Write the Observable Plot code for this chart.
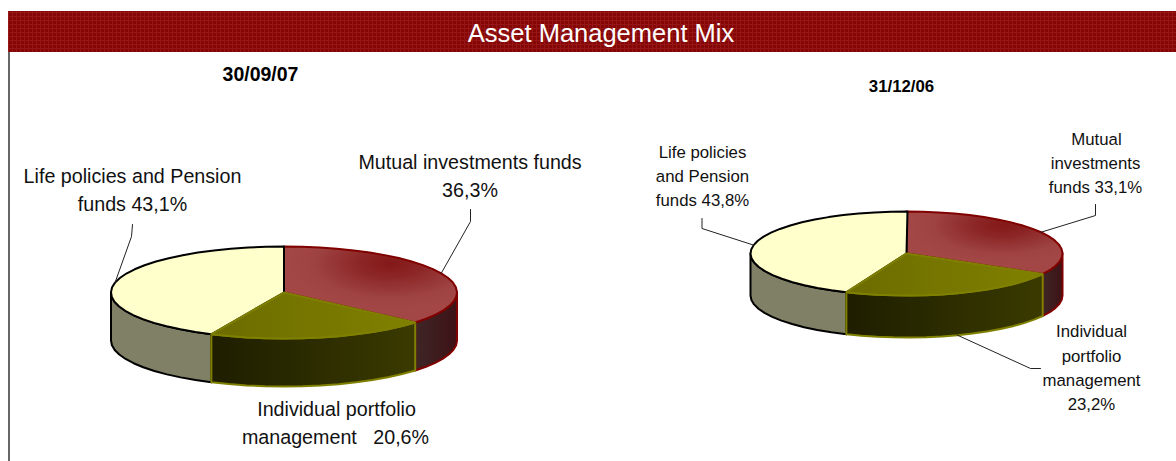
<!DOCTYPE html>
<html>
<head>
<meta charset="utf-8">
<script src="https://cdn.jsdelivr.net/npm/d3@7"></script>
<script src="https://cdn.jsdelivr.net/npm/@observablehq/plot@0.6"></script>
<style>html,body{margin:0;padding:0;background:#fff}svg{display:block}</style>
</head>
<body>
<div id="chart"></div>
<script>
// ---- data ----
const title = "Asset Management Mix";
const dates = ["30/09/07", "31/12/06"];
const categories = ["Mutual investments funds", "Individual portfolio management", "Life policies and Pension funds"];
const shares0907 = [36.3, 20.6, 43.1];
const shares1206 = [33.1, 23.2, 43.8];

// ---- layout ----
const W = 1176, H = 461;
const pies = [
  {cx: 283.5, cy: 292, rx: 173, ry: 46, depth: 48, values: shares0907},
  {cx: 906, cy: 253, rx: 156, ry: 42, depth: 42, values: shares1206}
];
const styles = [
  {top: "url(#redTop)", side: "url(#redSide)", stroke: "#800000"},
  {top: "url(#oliveTop)", side: "url(#oliveSide)", stroke: "#808000"},
  {top: "#ffffcc", side: "#808066", stroke: "#000"}
];
const pct = (v) => v.toFixed(1).replace(".", ",") + "%";

const STEP = Math.PI / 30;
const rad = (pct) => pct / 100 * 2 * Math.PI;
const pt = (p, a, dz = 0) => ({x: p.cx + p.rx * Math.sin(a), y: p.cy - p.ry * Math.cos(a) + dz});
function arc(p, a0, a1, dz = 0) {
  const out = [];
  const n = Math.max(1, Math.round((a1 - a0) / STEP));
  for (let i = 0; i <= n; ++i) out.push(pt(p, a0 + (a1 - a0) * i / n, dz));
  return out;
}
const slices = (p) => {
  let c = 0;
  return p.values.map((v, i) => {
    const a0 = rad(c); c += v; const a1 = rad(c);
    return {i, a0, a1, mid: (a0 + a1) / 2};
  });
};
function topPoly(p, s) {
  const c = {x: p.cx, y: p.cy};
  return [c, ...arc(p, s.a0, s.a1), c];
}
function sidePoly(p, s) {
  const a0 = Math.max(s.a0, Math.PI / 2), a1 = Math.min(s.a1, 3 * Math.PI / 2);
  if (a1 <= a0) return null;
  const upper = arc(p, a0, a1);
  const lower = arc(p, a0, a1, p.depth).reverse();
  return [...upper, ...lower, upper[0]];
}

const polyMark = (pts, fill, stroke, w) => Plot.line(pts, {x: "x", y: "y", fill, stroke, strokeWidth: w, strokeLinejoin: "round"});
const pieMarks = [];
for (const p of pies) {
  const ss = slices(p);
  for (const s of [ss[2], ss[0], ss[1]]) {
    const poly = sidePoly(p, s);
    if (poly) pieMarks.push(polyMark(poly, styles[s.i].side, styles[s.i].stroke, 2));
  }
  for (const s of [ss[0], ss[2], ss[1]]) {
    pieMarks.push(polyMark(topPoly(p, s), styles[s.i].top, styles[s.i].stroke, 2));
  }
}

// leader lines: start on the slice edge at the slice's mid-angle
const [p0, p1] = pies, [s0, s1] = [slices(p0), slices(p1)];
const leaders = [
  [pt(p0, s0[0].mid), {x: 470, y: 221}, {x: 470, y: 209}],
  [pt(p0, s0[2].mid), {x: 131, y: 236}, {x: 132, y: 224}],
  [pt(p1, s1[0].mid), {x: 1095, y: 215}, {x: 1095, y: 204}],
  [pt(p1, s1[2].mid), {x: 701.5, y: 228}, {x: 701.5, y: 218}],
  [pt(p1, s1[1].mid, p1.depth), {x: 1030, y: 368}, {x: 1040, y: 368}]
];

const labels = [
  {t: "Life policies and Pension", x: 132, y: 182, s: 19.7},
  {t: "funds " + pct(shares0907[2]), x: 132, y: 210, s: 19.7},
  {t: "Mutual investments funds", x: 469.5, y: 168, s: 19.7},
  {t: pct(shares0907[0]), x: 469.5, y: 196, s: 19.7},
  {t: "Individual portfolio", x: 336, y: 415, s: 19.7},
  {t: "management   " + pct(shares0907[1]), x: 335, y: 443, s: 19.7},
  {t: "Life policies", x: 702, y: 157, s: 16.8},
  {t: "and Pension", x: 702, y: 181, s: 16.8},
  {t: "funds " + pct(shares1206[2]), x: 702, y: 205, s: 16.8},
  {t: "Mutual", x: 1096, y: 144, s: 16.8},
  {t: "investments", x: 1095, y: 168, s: 16.8},
  {t: "funds " + pct(shares1206[0]), x: 1095, y: 192, s: 16.8},
  {t: "Individual", x: 1091, y: 336, s: 16.8},
  {t: "portfolio", x: 1091, y: 361, s: 16.8},
  {t: "management", x: 1091, y: 385, s: 16.8},
  {t: pct(shares1206[1]), x: 1091, y: 409, s: 16.8}
];
const dateLabels = [
  {t: dates[0], x: 260, y: 80, s: 19.5},
  {t: dates[1], x: 901, y: 91, s: 16.8}
];

const ns = "http://www.w3.org/2000/svg";
function defs() {
  const d = document.createElementNS(ns, "defs");
  d.innerHTML = `
  <pattern id="band" width="4" height="4" patternUnits="userSpaceOnUse">
    <rect width="4" height="4" fill="#860606"/>
    <rect x="0" y="0" width="4" height="1" fill="#951616"/>
    <rect x="0" y="0" width="1" height="4" fill="#951616"/>
  </pattern>
  <radialGradient id="redTop" cx="0.62" cy="0.22" r="0.6">
    <stop offset="0" stop-color="#841818"/><stop offset="0.3" stop-color="#8c2626"/><stop offset="0.75" stop-color="#9e4242"/><stop offset="1" stop-color="#a24646"/>
  </radialGradient>
  <linearGradient id="redSide" x1="0" x2="1" y1="0" y2="0">
    <stop offset="0" stop-color="#3f2626"/><stop offset="1" stop-color="#3d1216"/>
  </linearGradient>
  <linearGradient id="oliveTop" x1="0" x2="1" y1="0" y2="0">
    <stop offset="0" stop-color="#6c6c00"/><stop offset="1" stop-color="#808000"/>
  </linearGradient>
  <linearGradient id="oliveSide" x1="0" x2="1" y1="0" y2="0">
    <stop offset="0" stop-color="#1e1e00"/><stop offset="1" stop-color="#3a3a00"/>
  </linearGradient>`;
  return d;
}

const chart = Plot.plot({
  width: W, height: H,
  margin: 0,
  style: {background: "#fff", fontFamily: "'Liberation Sans', Arial, sans-serif"},
  x: {domain: [0, W], range: [0, W], axis: null},
  y: {domain: [0, H], range: [0, H], axis: null},
  marks: [
    defs,
    Plot.rect([{x1: 8, x2: W, y1: 11, y2: 52}], {x1: "x1", x2: "x2", y1: "y1", y2: "y2", fill: "url(#band)"}),
    Plot.ruleX([8.5], {y1: 52, y2: H, stroke: "#000", strokeWidth: 1.2}),
    ...pieMarks,
    ...leaders.map((l) => Plot.line(l, {x: "x", y: "y", stroke: "#222", strokeWidth: 1})),
    Plot.text([title], {x: () => 600.5, y: () => 41, text: (d) => d, fill: "#fff", fontSize: 25.5, textAnchor: "middle", lineAnchor: "bottom"}),
    Plot.text(dateLabels, {x: "x", y: "y", text: "t", fontSize: "s", fontWeight: "bold", fill: "#000", textAnchor: "middle", lineAnchor: "bottom"}),
    Plot.text(labels, {x: "x", y: "y", text: "t", fontSize: "s", fill: "#111", textAnchor: "middle", lineAnchor: "bottom"})
  ]
});
document.getElementById("chart").append(chart);
</script>
</body>
</html>
